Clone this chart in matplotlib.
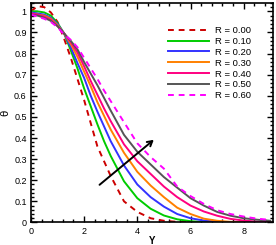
import matplotlib
matplotlib.use("Agg")
import matplotlib.pyplot as plt
from matplotlib.ticker import MultipleLocator, FormatStrFormatter

# data
Y = [0, 0.25, 0.5, 0.75, 1.0, 1.25, 1.5, 1.75, 2.0, 2.25, 2.5, 2.75, 3.0,
     3.5, 4.0, 4.5, 5.0, 5.5, 6.0, 6.5, 7.0, 7.5, 8.0, 8.5, 9.0]

theta_r000 = [1.00, 1.025, 1.02, 0.995, 0.95, 0.87, 0.78, 0.68, 0.58, 0.47, 0.36, 0.29, 0.22,
              0.10, 0.05, 0.02, 0.008, 0.003, 0.001, 0, 0, 0, 0, 0, 0]
theta_r010 = [1.00, 1.00, 0.995, 0.98, 0.945, 0.895, 0.815, 0.73, 0.635, 0.55, 0.465, 0.385, 0.315,
              0.195, 0.115, 0.065, 0.033, 0.015, 0.006, 0.002, 0.001, 0, 0, 0, 0]
theta_r020 = [0.995, 0.99, 0.985, 0.97, 0.94, 0.895, 0.83, 0.755, 0.685, 0.60, 0.525, 0.455, 0.385,
              0.27, 0.18, 0.12, 0.075, 0.04, 0.02, 0.009, 0.004, 0.001, 0, 0, 0]
theta_r030 = [0.99, 0.985, 0.98, 0.965, 0.935, 0.895, 0.845, 0.785, 0.715, 0.645, 0.57, 0.505, 0.44,
              0.33, 0.24, 0.175, 0.12, 0.07, 0.04, 0.018, 0.008, 0.003, 0.001, 0, 0]
theta_r040 = [0.99, 0.985, 0.975, 0.96, 0.93, 0.895, 0.855, 0.805, 0.74, 0.67, 0.605, 0.54, 0.48,
              0.37, 0.29, 0.23, 0.17, 0.12, 0.08, 0.052, 0.032, 0.017, 0.009, 0.004, 0.002]
theta_r050 = [0.985, 0.98, 0.97, 0.955, 0.93, 0.895, 0.86, 0.82, 0.76, 0.705, 0.65, 0.59, 0.53,
              0.415, 0.335, 0.275, 0.215, 0.165, 0.115, 0.08, 0.05, 0.032, 0.02, 0.013, 0.008]
theta_r060 = [0.985, 0.975, 0.965, 0.95, 0.925, 0.89, 0.865, 0.83, 0.78, 0.73, 0.68, 0.625, 0.575,
              0.475, 0.375, 0.31, 0.255, 0.17, 0.125, 0.088, 0.058, 0.04, 0.028, 0.018, 0.012]

labels = ["R = 0.00", "R = 0.10", "R = 0.20", "R = 0.30", "R = 0.40", "R = 0.50", "R = 0.60"]
colors = ["#cc0000", "#00cc00", "#3333ff", "#ff8000", "#ff0080", "#555555", "#ff00ff"]
dashed = [True, False, False, False, False, False, True]

plt.rcParams['font.family'] = ['Liberation Sans', 'DejaVu Sans']

fig = plt.figure(figsize=(2.76, 2.45), dpi=100)
ax = fig.add_axes([0.112, 0.092, 0.877, 0.896])

series = [theta_r000, theta_r010, theta_r020, theta_r030, theta_r040, theta_r050, theta_r060]
for th, lab, c, d in zip(series, labels, colors, dashed):
    line, = ax.plot(Y, th, color=c, lw=1.4, label=lab)
    if d:
        line.set_dashes((3, 2.5))

ax.annotate("", xy=(4.7, 0.40), xytext=(2.5, 0.17),
            arrowprops=dict(arrowstyle="->,head_length=0.35,head_width=0.2", color="black", lw=1.4))

ax.set_xlim(0, 9.1)
ax.set_ylim(0, 1.04)
ax.xaxis.set_major_locator(MultipleLocator(2))
ax.xaxis.set_minor_locator(MultipleLocator(0.4))
ax.yaxis.set_major_locator(MultipleLocator(0.1))
ax.yaxis.set_minor_locator(MultipleLocator(0.02))
ax.yaxis.set_major_formatter(FormatStrFormatter('%g'))
ax.tick_params(which='both', direction='in', top=True, right=True, labelsize=6.5, pad=3, width=1)
ax.tick_params(which='major', length=4)
ax.tick_params(which='minor', length=2)
for s in ax.spines.values():
    s.set_linewidth(1.2)

ax.set_xlabel("Y", fontsize=7, labelpad=0, fontweight='bold')
ax.set_ylabel("θ", fontsize=8, labelpad=3)

ax.legend(loc='upper left', bbox_to_anchor=(0.566, 0.895), frameon=False, fontsize=6.8,
          handlelength=4.4, handletextpad=0.55, labelspacing=0.2, borderpad=0, borderaxespad=0)

fig.savefig("out.png", dpi=100)
